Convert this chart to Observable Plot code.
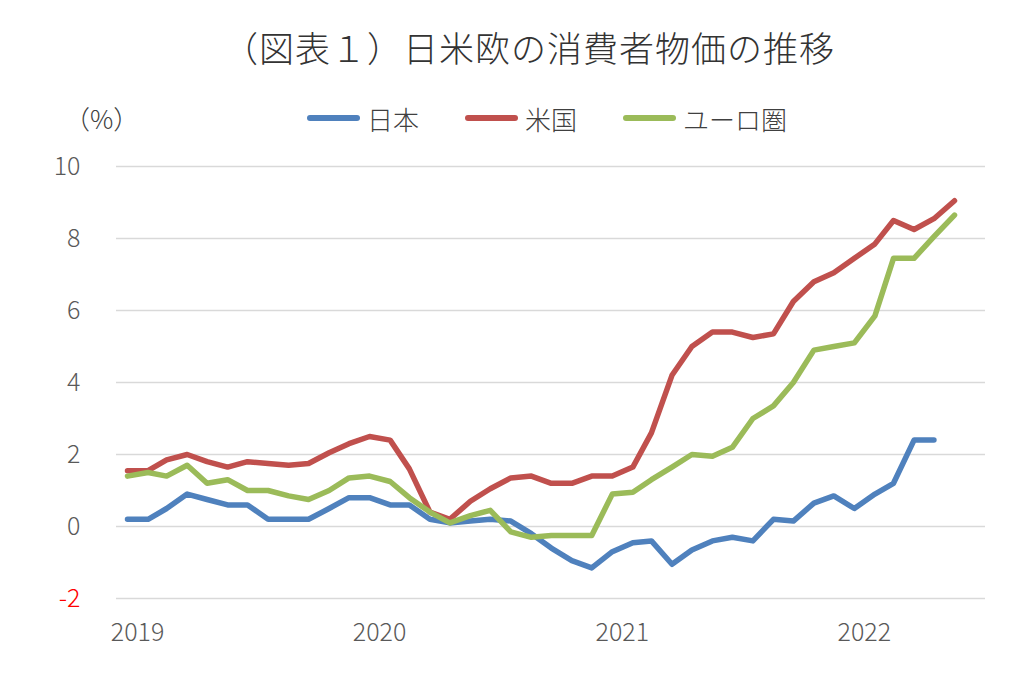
<!DOCTYPE html>
<html>
<head>
<meta charset="utf-8">
<script src="https://cdn.jsdelivr.net/npm/d3@7"></script>
<script src="https://cdn.jsdelivr.net/npm/@observablehq/plot@0.6"></script>
<style>
  html, body { margin: 0; padding: 0; background: #fff; }
  body { width: 1024px; height: 677px; overflow: hidden; font-family: "Noto Sans CJK JP", "Noto Sans", sans-serif; color: #404040; }
  #head { position: relative; width: 1024px; height: 140px; }
  #title { position: absolute; left: 17px; top: 24px; width: 1024px; text-align: center; font-size: 35px; font-weight: 300; line-height: 46px; letter-spacing: 1px; color: #333; }
  #unit { position: absolute; left: 64px; top: 100px; font-size: 26px; line-height: 36px; font-weight: 300; color: #404040; }
  #legend { position: absolute; left: 307px; top: 100px; height: 36px; display: flex; align-items: center; gap: 46px; font-size: 26px; font-weight: 300; color: #404040; }
  .item { display: flex; align-items: center; gap: 7px; }
  .sw { width: 53px; height: 6px; border-radius: 3px; }
  #chart svg { display: block; }
</style>
</head>
<body>
<div id="head">
  <div id="title">（図表１）日米欧の消費者物価の推移</div>
  <div id="unit">（%）</div>
  <div id="legend"></div>
</div>
<div id="chart"></div>
<script>
// Series names and colours
const seriesNames = ["日本", "米国", "ユーロ圏"];
const seriesColors = ["#4F81BD", "#C0504D", "#9BBB59"];

// Monthly CPI, y/y %, starting January 2019
const startMonth = "2019-01-01";
const japan = [0.2,0.2,0.5,0.9,0.75,0.6,0.6,0.2,0.2,0.2,0.5,0.8,0.8,0.6,0.6,0.2,0.1,0.15,0.2,0.15,-0.2,-0.6,-0.95,-1.15,-0.7,-0.45,-0.4,-1.05,-0.65,-0.4,-0.3,-0.4,0.2,0.15,0.65,0.85,0.5,0.9,1.2,2.4,2.4];
const us = [1.55,1.55,1.85,2.0,1.8,1.65,1.8,1.75,1.7,1.75,2.05,2.3,2.5,2.4,1.6,0.4,0.2,0.7,1.05,1.35,1.4,1.2,1.2,1.4,1.4,1.65,2.6,4.2,5.0,5.4,5.4,5.25,5.35,6.25,6.8,7.05,7.45,7.85,8.5,8.25,8.55,9.05];
const euro = [1.4,1.5,1.4,1.7,1.2,1.3,1.0,1.0,0.85,0.75,1.0,1.35,1.4,1.25,0.8,0.4,0.1,0.3,0.45,-0.15,-0.3,-0.25,-0.25,-0.25,0.9,0.95,1.3,1.65,2.0,1.95,2.2,3.0,3.35,4.0,4.9,5.0,5.1,5.85,7.45,7.45,8.05,8.65];

// Axis ticks
const yTicks = [0, 2, 4, 6, 8, 10];
const yNegTicks = [-2];
const xTickYears = ["2019-01-01", "2020-01-01", "2021-01-01", "2022-01-01"];

const start = new Date(startMonth);
const monthOf = i => d3.utcMonth.offset(start, i);
const seriesValues = [japan, us, euro];
const rows = seriesValues.flatMap((vals, s) => vals.map((v, i) => ({series: seriesNames[s], date: monthOf(i), value: v})));

// Legend
const legend = document.getElementById("legend");
seriesNames.forEach((n, i) => {
  const it = document.createElement("div");
  it.className = "item";
  it.innerHTML = `<span class="sw" style="background:${seriesColors[i]}"></span><span>${n}</span>`;
  legend.appendChild(it);
});

const font = "'Noto Sans CJK JP', 'Noto Sans', sans-serif";
const chart = Plot.plot({
  width: 1024,
  height: 537,
  marginLeft: 116,
  marginRight: 39,
  marginTop: 26,
  marginBottom: 79,
  insetLeft: 11,
  insetRight: 31,
  style: {fontFamily: font, fontSize: "25px", fontWeight: 300, background: "#fff"},
  x: {type: "utc", domain: [start, monthOf(41)]},
  y: {domain: [-2, 10]},
  color: {domain: seriesNames, range: seriesColors},
  marks: [
    Plot.ruleY(yNegTicks.concat(yTicks), {stroke: "#d9d9d9", strokeWidth: 1.6}),
    ...seriesNames.map(n => Plot.line(rows.filter(d => d.series === n), {
      x: "date", y: "value", stroke: "series", strokeWidth: 5.5,
      strokeLinejoin: "round", strokeLinecap: "round"
    })),
    Plot.axisY(yTicks, {tickSize: 0, tickPadding: 36, fill: "#595959", fontSize: 25, tickFormat: d => String(d), label: null}),
    Plot.axisY(yNegTicks, {tickSize: 0, tickPadding: 36, fill: "#FF0000", fontSize: 25, tickFormat: d => String(d), label: null}),
    Plot.axisX(xTickYears.map(d => new Date(d)), {tickSize: 0, tickPadding: 25, dx: 10, fill: "#595959", fontSize: 25, tickFormat: d3.utcFormat("%Y"), label: null})
  ]
});
document.getElementById("chart").appendChild(chart);
</script>
</body>
</html>
